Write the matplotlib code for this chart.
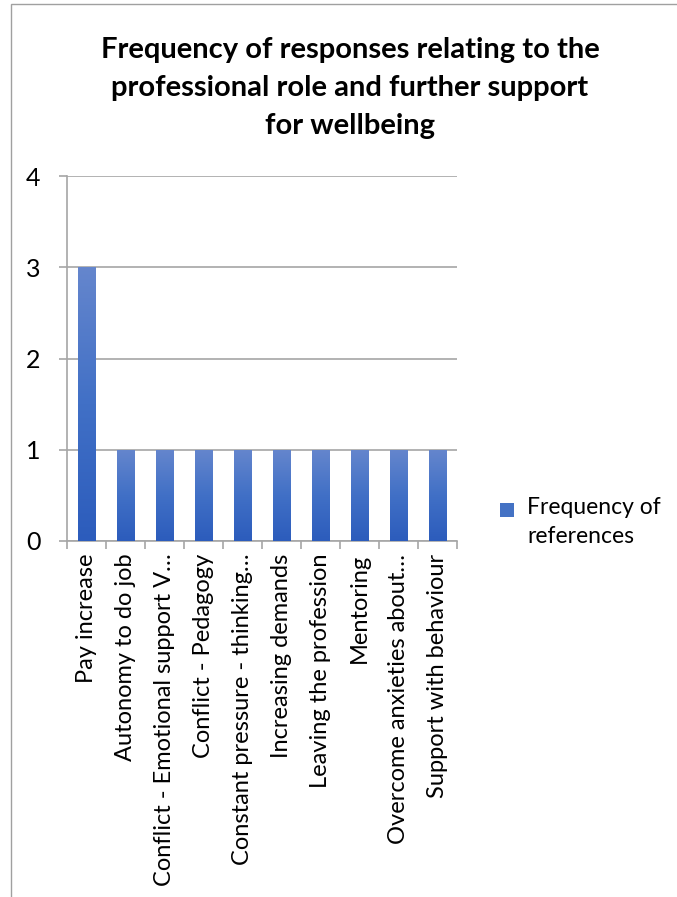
import matplotlib
matplotlib.use("Agg")
import matplotlib.pyplot as plt
import numpy as np
from matplotlib.patches import Rectangle
from matplotlib.colors import LinearSegmentedColormap

categories = [
    "Pay increase",
    "Autonomy to do job",
    "Conflict - Emotional support V\u2026",
    "Conflict - Pedagogy",
    "Constant pressure - thinking\u2026",
    "Increasing demands",
    "Leaving the profession",
    "Mentoring",
    "Overcome anxieties about\u2026",
    "Support with behaviour",
]
values = [3, 1, 1, 1, 1, 1, 1, 1, 1, 1]
series_name = "Frequency of\nreferences"
title = "Frequency of responses relating to the\nprofessional role and further support\nfor wellbeing"

plt.rcParams["font.family"] = ["Lato", "DejaVu Sans"]

W, H = 677, 897
fig = plt.figure(figsize=(W / 100, H / 100), dpi=100)

# outer chart frame
fig.patches.append(Rectangle((11 / W, -0.5), 2, 0.5 + (1 - 4 / H),
                             transform=fig.transFigure, fill=False,
                             edgecolor="#a0a0a0", linewidth=1.0))

ax = fig.add_axes([67 / W, 1 - 541 / H, (457 - 67) / W, (541 - 176) / H])

x = np.arange(len(categories))
bars = ax.bar(x, values, width=0.44, color="none", zorder=3)

grad = LinearSegmentedColormap.from_list("bar", ["#2c5cbc", "#4170c6", "#6586cd"])
g = np.linspace(0, 1, 256).reshape(-1, 1)
for b in bars:
    x0, y0 = b.get_x(), b.get_y()
    w, h = b.get_width(), b.get_height()
    im = ax.imshow(g, cmap=grad, origin="lower", aspect="auto",
                   extent=(x0, x0 + w, y0, y0 + h), zorder=3)
    im.set_clip_path(b)

ax.set_xlim(-0.5, len(categories) - 0.5)
ax.set_ylim(0, 4)
ax.set_yticks([0, 1, 2, 3, 4])
ax.grid(axis="y", color="#a6a6a6", linewidth=1.2, zorder=0)
ax.set_axisbelow(True)

for s in ["top", "right"]:
    ax.spines[s].set_visible(False)
ax.spines["left"].set_color("#a6a6a6")
ax.spines["bottom"].set_color("#a6a6a6")
ax.spines["left"].set_linewidth(1.2)
ax.spines["bottom"].set_linewidth(1.2)

ax.tick_params(axis="y", length=6, width=1.2, color="#a6a6a6", labelsize=18,
               pad=13, labelcolor="black")
ax.set_xticks(np.arange(len(categories) + 1) - 0.5, minor=False)
ax.set_xticklabels([])
ax.tick_params(axis="x", length=6, width=1.2, color="#a6a6a6")
for i, c in enumerate(categories):
    ax.text(i, -0.14, c, rotation=90, ha="center", va="top", fontsize=17,
            transform=ax.transData)

fig.text(350 / W, 1 - 88 / H, title, ha="center", va="center", fontsize=21,
         fontweight="bold", linespacing=1.56)

# legend
fig.patches.append(Rectangle((500 / W, 1 - 517 / H), 14 / W, 14 / H,
                             transform=fig.transFigure,
                             facecolor="#4472c4", edgecolor="none"))
fig.text(527 / W, 1 - 497 / H, series_name, ha="left", va="top", fontsize=16.5,
         linespacing=1.45)

fig.savefig("out.png", dpi=100)
